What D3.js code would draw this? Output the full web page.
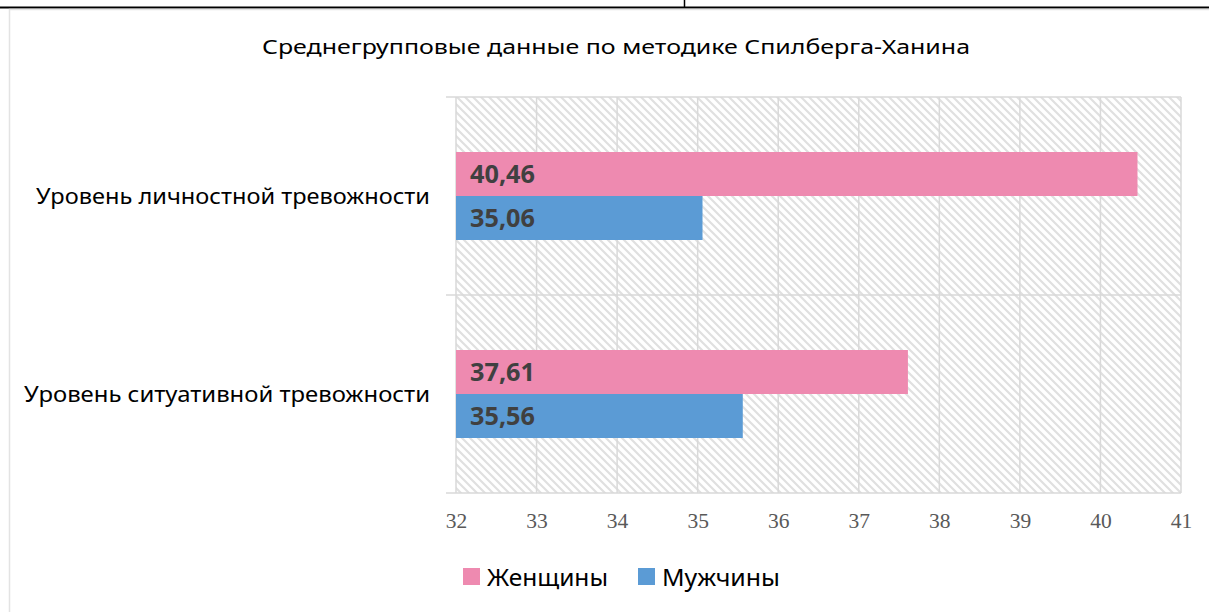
<!DOCTYPE html>
<html>
<head>
<meta charset="utf-8">
<script src="https://cdn.jsdelivr.net/npm/d3@7"></script>
<style>
  body { margin: 0; background: #fff; }
  svg { display: block; }
</style>
</head>
<body>
<script>
const W = 1209, H = 612;

// data
const categories = ["Уровень личностной тревожности", "Уровень ситуативной тревожности"];
const seriesNames = ["Женщины", "Мужчины"];
const women = [40.46, 37.61];
const men = [35.06, 35.56];
const xTicks = [32, 33, 34, 35, 36, 37, 38, 39, 40, 41];
const title = "Среднегрупповые данные по методике Спилберга-Ханина";

const colors = ["#ee8ab0", "#5b9bd5"];
const GRID = "#d9d9d9";

const svg = d3.select("body").append("svg")
  .attr("width", W)
  .attr("height", H);

// hatch pattern for plot background
const defs = svg.append("defs");
defs.append("pattern")
  .attr("id", "hatch")
  .attr("patternUnits", "userSpaceOnUse")
  .attr("width", 8).attr("height", 8)
  .append("path")
  .attr("d", "M-2,-2 L10,10 M-2,6 L2,10 M6,-2 L10,2")
  .attr("stroke", "#e0e0e0")
  .attr("stroke-width", 2.2);

// page frame (document border around the chart)
svg.append("line").attr("x1", 0).attr("x2", W).attr("y1", 7.5).attr("y2", 7.5)
  .attr("stroke", "#000").attr("stroke-width", 2);
svg.append("line").attr("x1", 684.5).attr("x2", 684.5).attr("y1", 0).attr("y2", 7)
  .attr("stroke", "#000").attr("stroke-width", 1.5);
svg.append("path").attr("d", `M9.5,${H} V9.5 H${W}`)
  .attr("fill", "none").attr("stroke", "#e3e3e3").attr("stroke-width", 1.5);

// scales
const x = d3.scaleLinear().domain([32, 41]).range([456, 1181]);
const y = d3.scaleBand().domain(categories).range([97, 493]);
const ySub = d3.scaleBand().domain(seriesNames).range([0, y.bandwidth()])
  .paddingInner(0).paddingOuter(1.25);

const rows = categories.map((c, i) => ({cat: c, vals: [women[i], men[i]]}));

// plot background
svg.append("rect")
  .attr("x", x(32)).attr("y", y.range()[0])
  .attr("width", x(41) - x(32)).attr("height", y.range()[1] - y.range()[0])
  .attr("fill", "url(#hatch)");

// vertical gridlines
svg.append("g")
  .selectAll("line")
  .data(xTicks)
  .join("line")
  .attr("x1", d => x(d)).attr("x2", d => x(d))
  .attr("y1", y.range()[0]).attr("y2", y.range()[1])
  .attr("stroke", GRID).attr("stroke-width", 1.5);

// horizontal category boundaries (with tick stubs to the left)
const bounds = categories.map(c => y(c)).concat([y.range()[1]]);
svg.append("g")
  .selectAll("line")
  .data(bounds)
  .join("line")
  .attr("x1", x(32) - 10).attr("x2", x(41))
  .attr("y1", d => d).attr("y2", d => d)
  .attr("stroke", GRID).attr("stroke-width", 1.5);

// bars
const groups = svg.append("g")
  .selectAll("g")
  .data(rows)
  .join("g")
  .attr("transform", d => `translate(0,${y(d.cat)})`);

groups.selectAll("rect")
  .data(d => d.vals.map((v, j) => ({v, s: seriesNames[j], j})))
  .join("rect")
  .attr("x", x(32))
  .attr("y", d => ySub(d.s))
  .attr("width", d => x(d.v) - x(32))
  .attr("height", ySub.bandwidth())
  .attr("fill", d => colors[d.j]);

groups.selectAll("text")
  .data(d => d.vals.map((v, j) => ({v, s: seriesNames[j], j})))
  .join("text")
  .attr("x", x(32) + 14)
  .attr("y", d => ySub(d.s) + ySub.bandwidth() / 2)
  .attr("dy", "0.36em")
  .attr("font-family", "'Noto Sans', sans-serif")
  .attr("font-weight", "bold")
  .attr("font-size", 24.5)
  .attr("fill", "#404040")
  .attr("textLength", 65)
  .attr("lengthAdjust", "spacingAndGlyphs")
  .text(d => d3.format(".2f")(d.v).replace(".", ","));

// x axis
const xAxis = svg.append("g")
  .attr("transform", `translate(0,${y.range()[1]})`)
  .call(d3.axisBottom(x).tickValues(xTicks).tickSize(0).tickPadding(20).tickFormat(d3.format("d")));
xAxis.select(".domain").remove();
xAxis.selectAll("text")
  .attr("font-family", "'Liberation Serif', serif")
  .attr("font-size", 21.5)
  .attr("fill", "#595959");

// category labels
svg.append("g")
  .selectAll("text")
  .data(categories)
  .join("text")
  .attr("x", 430)
  .attr("y", d => y(d) + y.bandwidth() / 2)
  .attr("dy", "0.36em")
  .attr("text-anchor", "end")
  .attr("font-family", "'Noto Sans', sans-serif")
  .attr("font-size", 21.5)
  .attr("fill", "#000")
  .attr("textLength", (d, i) => i === 0 ? 394 : 406)
  .attr("lengthAdjust", "spacingAndGlyphs")
  .text(d => d);

// title
svg.append("text")
  .attr("x", 616).attr("y", 47)
  .attr("dy", "0.36em")
  .attr("text-anchor", "middle")
  .attr("font-family", "'Noto Sans', sans-serif")
  .attr("font-size", 20.5)
  .attr("fill", "#000")
  .attr("textLength", 708)
  .attr("lengthAdjust", "spacingAndGlyphs")
  .text(title);

// legend
const legend = svg.append("g").attr("transform", "translate(463,568)");
const legX = [0, 175];
const leg = legend.selectAll("g")
  .data(seriesNames)
  .join("g")
  .attr("transform", (d, i) => `translate(${legX[i]},0)`);
leg.append("rect")
  .attr("width", 17).attr("height", 17)
  .attr("fill", (d, i) => colors[i]);
leg.append("text")
  .attr("x", 24).attr("y", 9)
  .attr("dy", "0.36em")
  .attr("font-family", "'Noto Sans', sans-serif")
  .attr("font-size", 24)
  .attr("fill", "#000")
  .attr("textLength", (d, i) => i === 0 ? 121 : 118)
  .attr("lengthAdjust", "spacingAndGlyphs")
  .text(d => d);
</script>
</body>
</html>
